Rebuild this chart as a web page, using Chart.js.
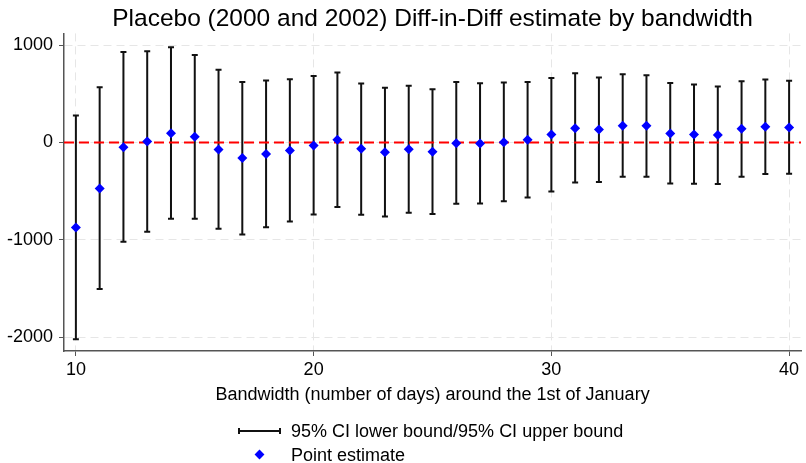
<!DOCTYPE html>
<html>
<head>
<meta charset="utf-8">
<script src="https://cdn.jsdelivr.net/npm/chart.js@4.4.1/dist/chart.umd.min.js"></script>
<style>
  html, body { margin: 0; padding: 0; background: #fff; }
  #wrap { position: relative; width: 806px; height: 463px; font-family: "Liberation Sans", Arial, sans-serif; }
  #legend { position: absolute; left: 238px; top: 419px; font-size: 18px; color: #000; }
  .item { display: flex; align-items: center; height: 24px; }
  .ico { position: relative; width: 53px; height: 24px; flex: none; }
  .bar { position: absolute; left: 1px; top: 11px; width: 41px; height: 2px; background: #111; }
  .cap { position: absolute; top: 9px; width: 2px; height: 6px; background: #111; }
  .dia { position: absolute; left: 18px; top: 8px; width: 7px; height: 7px; background: #0000ff; transform: rotate(45deg); }
</style>
</head>
<body>
<div id="wrap">
  <canvas id="chart" width="806" height="463"></canvas>
  <div id="legend">
    <div class="item"><div class="ico"><div class="bar"></div><div class="cap" style="left:0"></div><div class="cap" style="left:41px"></div></div><span>95% CI lower bound/95% CI upper bound</span></div>
    <div class="item"><div class="ico"><div class="dia"></div></div><span>Point estimate</span></div>
  </div>
</div>
<script>
// bandwidth in days around the 1st of January
var bandwidth = [10, 11, 12, 13, 14, 15, 16, 17, 18, 19, 20, 21, 22, 23, 24, 25, 26, 27, 28, 29, 30, 31, 32, 33, 34, 35, 36, 37, 38, 39, 40];
var estimate = [-872, -472, -48, 10, 96, 58, -72, -160, -119, -82, -31, 28, -65, -99, -68, -95, -7, -10, 3, 28, 82, 147, 134, 171, 171, 92, 82, 76, 140, 161, 154];
var ciLower = [-2020, -1504, -1018, -916, -783, -783, -885, -943, -871, -810, -738, -663, -742, -759, -721, -735, -629, -626, -602, -564, -502, -410, -406, -352, -352, -420, -424, -427, -352, -324, -321];
var ciUpper = [277, 568, 930, 937, 978, 899, 746, 622, 636, 650, 684, 718, 605, 561, 582, 547, 622, 609, 616, 622, 663, 711, 667, 701, 691, 612, 595, 574, 630, 646, 633];
var xTicks = [10, 20, 30, 40];
var yTicks = [-2000, -1000, 0, 1000];

var FONT = '"Liberation Sans", Arial, sans-serif';

// error bars + red zero line, drawn under the points
var errorBars = {
    id: 'errorBars',
    beforeDatasetsDraw: function(chart) {
        var ctx = chart.ctx, xs = chart.scales.x, ys = chart.scales.y;
        ctx.save();
        ctx.strokeStyle = '#111';
        ctx.lineWidth = 2;
        for (var i = 0; i < bandwidth.length; i++) {
            var px = xs.getPixelForValue(bandwidth[i]);
            var lo = ys.getPixelForValue(ciLower[i]);
            var hi = ys.getPixelForValue(ciUpper[i]);
            ctx.beginPath();
            ctx.moveTo(px, lo); ctx.lineTo(px, hi);
            ctx.moveTo(px - 3, lo); ctx.lineTo(px + 3, lo);
            ctx.moveTo(px - 3, hi); ctx.lineTo(px + 3, hi);
            ctx.stroke();
        }
        var y0 = ys.getPixelForValue(0);
        ctx.strokeStyle = '#ff0000';
        ctx.lineWidth = 2;
        ctx.setLineDash([10, 5]);
        ctx.beginPath();
        ctx.moveTo(chart.chartArea.left, y0);
        ctx.lineTo(chart.chartArea.right, y0);
        ctx.stroke();
        ctx.restore();
    },
    afterLayout: function(chart) {
        // center the title over the plot region, nudge it down a bit
        chart.titleBlock.left = chart.chartArea.left;
        chart.titleBlock.right = chart.chartArea.right;
        chart.titleBlock.top += 2;
        chart.titleBlock.bottom += 2;
    }
};

var ctx = document.getElementById('chart').getContext('2d');
var chart = new Chart(ctx, {
    type: 'scatter',
    data: {
        datasets: [{
            label: 'Point estimate',
            data: bandwidth.map(function(b, i) { return { x: b, y: estimate[i] }; }),
            pointStyle: 'rectRot',
            pointRadius: 5,
            backgroundColor: '#0000ff',
            borderColor: '#0000ff',
            borderWidth: 0
        }]
    },
    options: {
        animation: false,
        responsive: false,
        layout: { padding: { left: 0, right: 0, top: 0, bottom: 57 } },
        plugins: {
            legend: { display: false },
            tooltip: { enabled: false },
            title: {
                display: true,
                text: 'Placebo (2000 and 2002) Diff-in-Diff estimate by bandwidth',
                color: '#000',
                font: { family: FONT, size: 24.5, weight: 'normal' },
                padding: { top: 3, bottom: 1 }
            }
        },
        scales: {
            x: {
                type: 'linear',
                min: 9.5,
                max: 40.5,
                afterBuildTicks: function(s) { s.ticks = xTicks.map(function(v) { return { value: v }; }); },
                afterFit: function(s) { s.height = 55; },
                grid: { color: '#e6e6e6', lineWidth: 1, tickColor: '#555', tickLength: 5 },
                border: { color: '#555', width: 1.5, dash: [8, 5] },
                ticks: {
                    color: '#000', font: { family: FONT, size: 18 }, padding: 3, maxRotation: 0,
                    callback: function(v) { return String(v); }
                },
                title: {
                    display: true,
                    text: 'Bandwidth (number of days) around the 1st of January',
                    color: '#000',
                    font: { family: FONT, size: 18 },
                    padding: { top: 4, bottom: 0 }
                }
            },
            y: {
                min: -2140,
                max: 1120,
                afterBuildTicks: function(s) { s.ticks = yTicks.map(function(v) { return { value: v }; }); },
                afterFit: function(s) { s.width = 64; },
                grid: { color: '#e6e6e6', lineWidth: 1, tickColor: '#555', tickLength: 5 },
                border: { color: '#555', width: 1.5, dash: [8, 5] },
                ticks: {
                    color: '#000', font: { family: FONT, size: 18 }, padding: 6,
                    callback: function(v) { return String(v); }
                }
            }
        }
    },
    plugins: [errorBars]
});
</script>
</body>
</html>
